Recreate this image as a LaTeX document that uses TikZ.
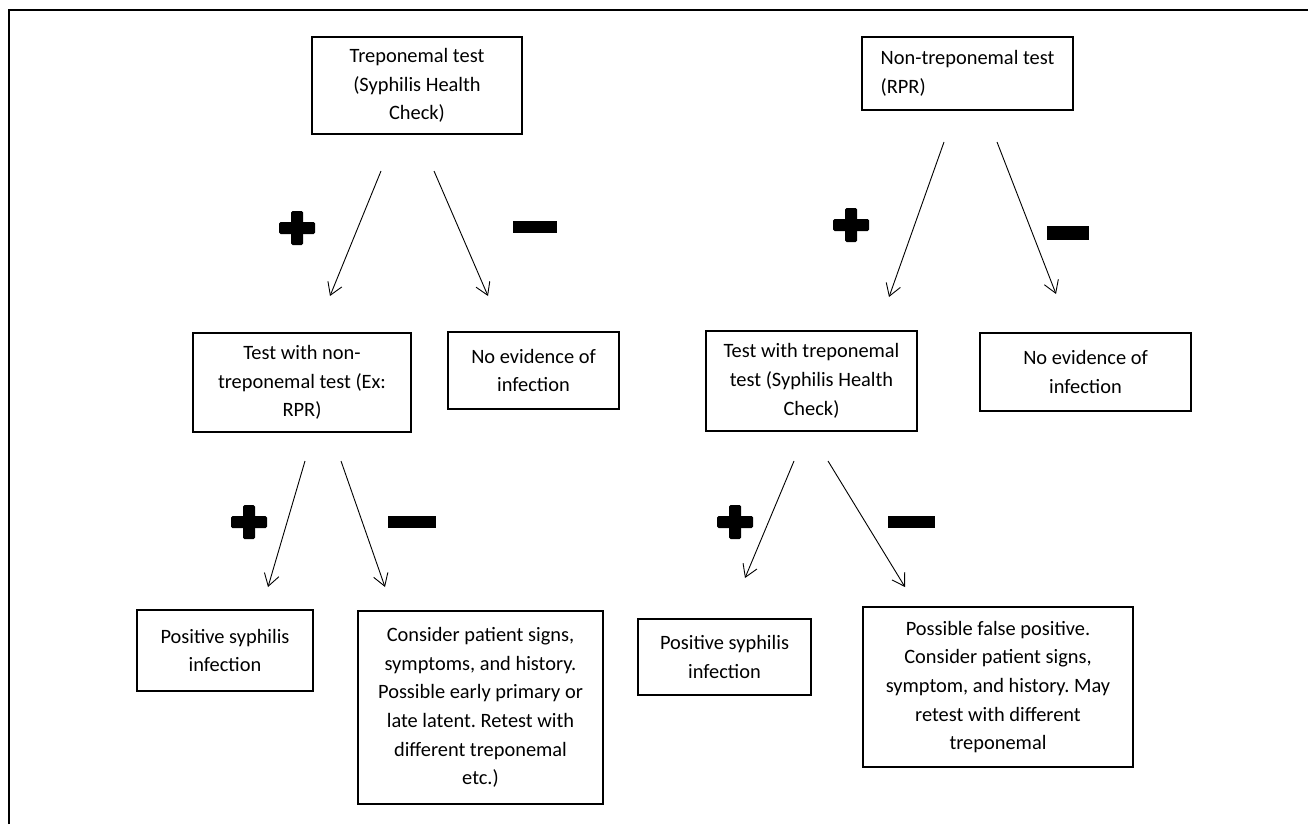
\documentclass[tikz,border=0pt]{standalone}
\usepackage{fontspec}
\setmainfont{Carlito}
\usetikzlibrary{arrows.meta}
\frenchspacing

\begin{document}
\begin{tikzpicture}[x = 1pt, y = -1pt, font = \fontsize{20.4}{28.7}\selectfont,
  box/.style = {draw, line width = 1.3pt, align = center, inner sep = 2pt},
  arr/.style = {-{Straight Barb[length = 12pt, width = 15pt]}, line width = 0.9pt},
  plussign/.pic = {\fill [rounded corners = 1.5pt] (-18,-6) rectangle (18,6);
                   \fill [rounded corners = 1.5pt] (-6,-17) rectangle (6,17);},
  minussign/.style = {fill = black, inner sep = 0pt, minimum height = 12pt}]
\useasboundingbox (0,0) rectangle (1308,824);
\draw [line width = 2pt] (9,824) -- (9,10) -- (1308,10);

\node [box, minimum width = 210pt, minimum height = 97pt] (trep) at (417,85.5) {Treponemal test\\(Syphilis Health\\Check)};
\node [box, align = left, minimum width = 211pt, minimum height = 73pt] (nontrep) at (967.5,73.5) {Non-treponemal test\\(RPR)};

\node [box, minimum width = 218pt, minimum height = 99pt] (retestnt) at (302,382.5) {Test with non-\\treponemal test (Ex:\\RPR)};
\node [box, minimum width = 171pt, minimum height = 77pt] (noevleft) at (533.5,370.5) {No evidence of\\infection};
\node [box, minimum width = 211pt, minimum height = 100pt] (retestt) at (811.5,381) {Test with treponemal\\test (Syphilis Health\\Check)};
\node [box, minimum width = 211pt, minimum height = 78pt] (noevright) at (1085.5,372) {No evidence of\\infection};

\node [box, minimum width = 176pt, minimum height = 81pt] (posleft) at (225,650.5) {Positive syphilis\\infection};
\node [box, minimum width = 245pt, minimum height = 193pt] (considerleft) at (480.5,707.5) {Consider patient signs,\\symptoms, and history.\\Possible early primary or\\late latent. Retest with\\different treponemal\\etc.)};
\node [box, minimum width = 173pt, minimum height = 76pt] (posright) at (724.5,657) {Positive syphilis\\infection};
\node [box, minimum width = 270pt, minimum height = 160pt] (falsepos) at (998,687) {Possible false positive.\\Consider patient signs,\\symptom, and history. May\\retest with different\\treponemal};

\coordinate (trepplus) at (381,171);
\coordinate (trepminus) at (434,171);
\coordinate (nontrepplus) at (944,142);
\coordinate (nontrepminus) at (997,142);
\coordinate (retestntplus) at (305,461);
\coordinate (retestntminus) at (341,461);
\coordinate (retesttplus) at (794,461);
\coordinate (retesttminus) at (828,461);
\coordinate (toretestnt) at (330,296);
\coordinate (tonoevleft) at (488,296);
\coordinate (toretestt) at (889,297);
\coordinate (tonoevright) at (1056,294);
\coordinate (toposleft) at (268,587);
\coordinate (toconsiderleft) at (385,587);
\coordinate (toposright) at (745,578);
\coordinate (tofalsepos) at (905,587);

\draw [arr] (trepplus) -- (toretestnt);
\draw [arr] (trepminus) -- (tonoevleft);
\draw [arr] (nontrepplus) -- (toretestt);
\draw [arr] (nontrepminus) -- (tonoevright);
\draw [arr] (retestntplus) -- (toposleft);
\draw [arr] (retestntminus) -- (toconsiderleft);
\draw [arr] (retesttplus) -- (toposright);
\draw [arr] (retesttminus) -- (tofalsepos);

\pic at (297,228) {plussign};
\pic at (851,225) {plussign};
\pic at (249,522) {plussign};
\pic at (735,522) {plussign};
\node [minussign, minimum width = 44pt] (minus1) at (535,227) {};
\node [minussign, minimum width = 42pt, minimum height = 14pt] (minus2) at (1068,233) {};
\node [minussign, minimum width = 48pt] (minus3) at (412,522) {};
\node [minussign, minimum width = 47pt] (minus4) at (911,522) {};
\end{tikzpicture}
\end{document}
